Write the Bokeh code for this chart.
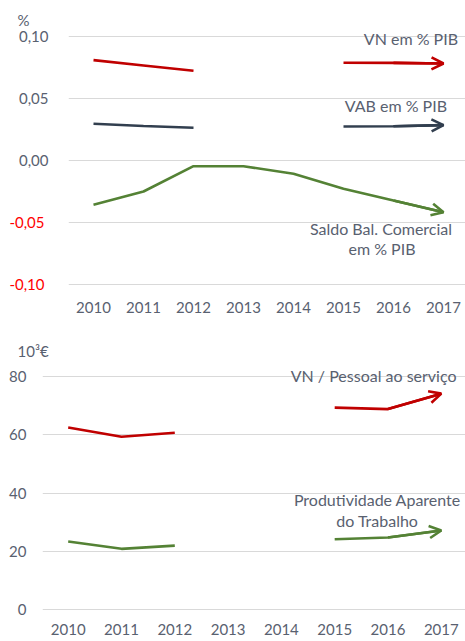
import numpy as np
from bokeh.plotting import figure
from bokeh.models import (Range1d, FixedTicker, LinearAxis, CustomJSTickFormatter,
                          Label, Arrow, OpenHead, Title)
from bokeh.embed import file_html
from bokeh.resources import INLINE

nan = np.nan
years = [2010, 2011, 2012, 2013, 2014, 2015, 2016, 2017]

# Top chart (% of GDP)
vn_pib = [0.0809, 0.0766, 0.0723, nan, nan, 0.0788, 0.0787, 0.0782]
vab_pib = [0.0296, 0.0278, 0.0264, nan, nan, 0.0274, 0.0276, 0.0285]
saldo_pib = [-0.0357, -0.0250, -0.0046, -0.0046, -0.0107, -0.0228, -0.0323, -0.0417]
top_pos_ticks = [0.0, 0.05, 0.10]
top_neg_ticks = [-0.10, -0.05]

# Bottom chart (10^3 EUR)
vn_pessoal = [62.5, 59.3, 60.7, nan, nan, 69.3, 68.8, 74.1]
produtividade = [23.4, 20.9, 22.0, nan, nan, 24.2, 24.8, 27.2]
bottom_ticks = [0, 20, 40, 60, 80]

RED = "#c00000"
NAVY = "#323f4f"
GREEN = "#548235"
TXT = "#596170"
NEG = "#ff0000"
GRID = "#d9d9d9"
FONT = "Lato"

comma_fmt = CustomJSTickFormatter(code="return tick.toFixed(2).replace('.', ',');")


def style(p):
    p.outline_line_color = None
    p.xgrid.grid_line_color = None
    p.ygrid.grid_line_color = GRID
    p.ygrid.grid_line_width = 1
    for ax in p.axis:
        ax.axis_line_color = None
        ax.major_tick_line_color = None
        ax.minor_tick_line_color = None
        ax.major_tick_out = 0
        ax.major_tick_in = 0
        ax.minor_tick_out = 0
        ax.major_label_text_font = FONT
        ax.major_label_text_font_size = "15px"
        ax.major_label_text_color = TXT
    p.xaxis.ticker = FixedTicker(ticks=years)


def add_series(p, ys, color):
    p.line(years, ys, line_color=color, line_width=2.6)
    p.add_layout(Arrow(end=OpenHead(size=12, line_color=color, line_width=2.6),
                       x_start=years[-2], y_start=ys[-2],
                       x_end=years[-1], y_end=ys[-1],
                       line_color=color, line_width=2.6))


def note(p, x, y, text, align):
    p.add_layout(Label(x=x, y=y, text=text, text_align=align, text_baseline="middle",
                       text_font=FONT, text_font_size="16px", text_color=TXT))


def unit_title(text, offset, standoff):
    return Title(text=text, align="left", offset=offset, standoff=standoff,
                 text_font=FONT, text_font_size="15px", text_font_style="normal",
                 text_color=TXT)


# ---------------- top figure ----------------
top = figure(width=465, height=320, output_backend="svg", toolbar_location=None,
             x_range=Range1d(2009.5, 2009.5 + 397 / 50),
             y_range=Range1d(-0.1048, 0.1048),
             min_border_left=68, min_border_right=0, min_border_top=30,
             min_border_bottom=30)
neg_axis = LinearAxis(ticker=FixedTicker(ticks=top_neg_ticks), formatter=comma_fmt)
top.add_layout(neg_axis, "left")
style(top)
top.yaxis[0].ticker = FixedTicker(ticks=top_pos_ticks)
top.yaxis[0].formatter = comma_fmt
top.yaxis[0].major_label_standoff = 20
neg_axis.major_label_text_color = NEG
neg_axis.major_label_standoff = -29
top.ygrid.ticker = FixedTicker(ticks=top_neg_ticks + top_pos_ticks)
top.xaxis.major_label_standoff = 11
top.add_layout(unit_title("%", -51, 4), "above")

add_series(top, vn_pib, RED)
add_series(top, vab_pib, NAVY)
add_series(top, saldo_pib, GREEN)

note(top, 2017.29, 0.0984, "VN em % PIB", "right")
note(top, 2017.07, 0.0444, "VAB em % PIB", "right")
note(top, 2015.75, -0.0546, "Saldo Bal. Comercial", "center")
note(top, 2015.77, -0.0710, "em % PIB", "center")

# ---------------- bottom figure ----------------
bot = figure(width=465, height=321, output_backend="svg", toolbar_location=None,
             x_range=Range1d(2009.518, 2009.518 + 423 / 53.3),
             y_range=Range1d(-0.24, 83.75),
             min_border_left=42, min_border_right=0, min_border_top=45,
             min_border_bottom=31)
style(bot)
bot.yaxis.ticker = FixedTicker(ticks=bottom_ticks)
bot.ygrid.ticker = FixedTicker(ticks=bottom_ticks)
bot.yaxis.major_label_standoff = 16
bot.xaxis.major_label_standoff = 13
bot.add_layout(unit_title("10³€", -25, 12), "above")

add_series(bot, vn_pessoal, RED)
add_series(bot, produtividade, GREEN)

note(bot, 2015.73, 80.3, "VN / Pessoal ao serviço", "center")
note(bot, 2015.8, 37.8, "Produtividade Aparente", "center")
note(bot, 2015.8, 30.6, "do Trabalho", "center")

# two independent roots, stacked, so that each keeps its own frame position
open("out.html", "w").write(file_html([top, bot], INLINE))
